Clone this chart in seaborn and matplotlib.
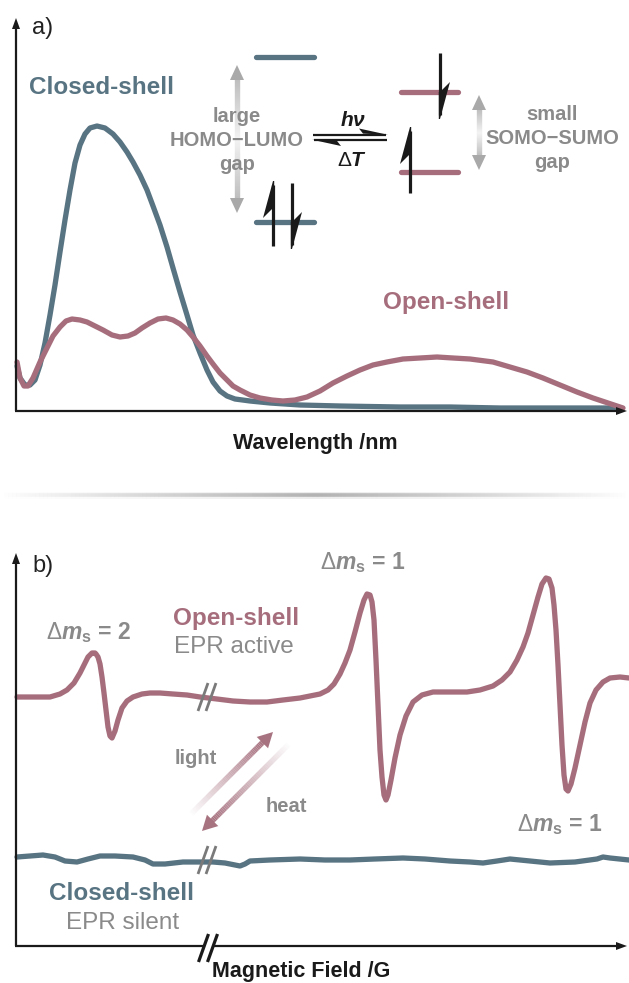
import numpy as np
import matplotlib
matplotlib.use("Agg")
import matplotlib.pyplot as plt
import seaborn as sns
from matplotlib.collections import LineCollection
from matplotlib.patches import Polygon
from matplotlib.colors import to_rgba

# ---------------- data (arbitrary units) ----------------
# Panel a: UV-vis absorption (x = wavelength position, y = absorbance)
uv_closed_x = [1, 4, 9, 14, 19, 24, 29, 34, 39, 44, 49, 54, 59, 64, 69, 74, 81, 89, 97, 104,
               111, 117, 124, 131, 137, 144, 151, 157, 164, 171, 177, 184, 191, 197, 204, 211,
               219, 234, 254, 284, 324, 384, 434, 484, 544, 604]
uv_closed_y = [45, 33, 26, 26, 31, 46, 68, 96, 126, 159, 191, 221, 248, 266, 277, 283, 285, 283,
               277, 269, 259, 249, 236, 221, 205, 186, 164, 143, 119, 96, 76, 58, 41, 29, 20, 15,
               12, 10, 8, 6, 5, 4, 4, 3, 3, 3]
uv_open_x = [1, 4, 8, 12, 17, 24, 31, 37, 44, 50, 56, 64, 71, 79, 87, 96, 104, 112, 119, 126,
             134, 142, 150, 157, 164, 171, 177, 184, 191, 197, 204, 211, 217, 224, 234, 244, 256,
             267, 279, 291, 304, 317, 331, 344, 357, 371, 387, 404, 421, 437, 454, 477, 494, 511,
             527, 544, 561, 577, 592, 607]
uv_open_y = [49, 33, 25, 25, 33, 49, 63, 75, 84, 90, 92, 91, 89, 85, 81, 76, 74, 75, 78, 83,
             88, 92, 93, 91, 87, 81, 74, 65, 55, 47, 38, 31, 25, 21, 16, 13, 11, 10, 11, 14, 20,
             28, 35, 41, 46, 49, 52, 53, 54, 53, 52, 49, 44, 39, 33, 26, 19, 13, 8, 3]

# Panel b: EPR signal (x = magnetic field position, y = signal)
epr_open_x = [1, 19, 34, 44, 51, 58, 64, 69, 72, 74, 76, 78, 79, 80, 82, 84, 86, 88, 90, 92, 94,
              96, 99, 102, 106, 111, 117, 126, 134, 144, 157, 171, 184, 201, 217, 234, 251, 267,
              284, 294, 304, 312, 318, 324, 329, 334, 339, 344, 348, 351, 354, 356, 358, 360,
              362, 364, 366, 368, 370, 372, 375, 379, 384, 390, 397, 406, 417, 434, 451, 464,
              477, 486, 494, 501, 507, 512, 517, 522, 526, 530, 533, 536, 538, 540, 542, 544,
              546, 548, 550, 552, 555, 559, 564, 569, 574, 580, 587, 594, 604, 613]
epr_open_y = [249, 249, 249, 252, 256, 263, 273, 283, 289, 291, 293, 293, 293, 292, 289, 282,
              269, 253, 236, 219, 210, 208, 215, 226, 238, 245, 249, 252, 253, 253, 252, 251,
              249, 247, 245, 244, 244, 246, 248, 250, 252, 256, 262, 272, 283, 296, 314, 333,
              346, 352, 351, 344, 326, 286, 241, 196, 169, 151, 146, 151, 166, 188, 211, 230,
              244, 251, 254, 254, 254, 256, 260, 266, 274, 286, 299, 313, 331, 349, 362, 368,
              367, 358, 341, 316, 281, 241, 201, 171, 157, 155, 162, 178, 201, 224, 243, 256,
              264, 268, 269, 268]
epr_closed_x = [1, 14, 27, 39, 49, 61, 72, 84, 99, 117, 129, 137, 149, 167, 184, 197, 209, 224,
                229, 234, 254, 284, 309, 334, 359, 387, 409, 434, 454, 467, 481, 494, 514, 534,
                559, 581, 587, 594, 613]
epr_closed_y = [89, 90, 91, 89, 85, 84, 87, 90, 90, 89, 86, 82, 82, 84, 84, 84, 83, 80, 82, 85,
                86, 87, 86, 86, 87, 88, 87, 85, 84, 83, 85, 87, 85, 83, 84, 87, 89, 88, 86]

# ---------------- style ----------------
BLUE = "#587482"
PINK = "#a66e7d"
GRAY = "#8a8a8a"
W, H = 629, 983

sns.set_theme(style="white")
plt.rcParams["font.family"] = ["Liberation Sans", "DejaVu Sans"]
plt.rcParams["mathtext.fontset"] = "custom"
plt.rcParams["mathtext.rm"] = "Liberation Sans"
plt.rcParams["mathtext.bf"] = "Liberation Sans:bold"
plt.rcParams["mathtext.it"] = "Liberation Sans:italic:bold"
plt.rcParams["mathtext.sf"] = "Liberation Sans:bold"

fig = plt.figure(figsize=(W / 100, H / 100), dpi=100)
fig.patch.set_facecolor("white")


def panel(top_px, bottom_px):
    ax = fig.add_axes([16 / W, (H - bottom_px) / H, 613 / W, (bottom_px - top_px) / H])
    ax.set_xlim(0, 613)
    ax.set_ylim(0, bottom_px - top_px)
    ax.set_axis_off()
    return ax


axa = panel(18, 411)
axb = panel(553, 946)

LW = 3.8
sns.lineplot(x=uv_closed_x, y=uv_closed_y, ax=axa, color=BLUE, linewidth=LW, sort=False,
             estimator=None)
sns.lineplot(x=uv_open_x, y=uv_open_y, ax=axa, color=PINK, linewidth=LW, sort=False,
             estimator=None)
sns.lineplot(x=epr_open_x, y=epr_open_y, ax=axb, color=PINK, linewidth=LW, sort=False,
             estimator=None)
sns.lineplot(x=epr_closed_x, y=epr_closed_y, ax=axb, color=BLUE, linewidth=LW, sort=False,
             estimator=None)
for a in (axa, axb):
    for ln in a.get_lines():
        ln.set_clip_on(False)
        ln.set_solid_capstyle("round")
        ln.set_solid_joinstyle("round")

# ---------------- overlay in pixel coordinates ----------------
ov = fig.add_axes([0, 0, 1, 1])
ov.set_xlim(0, W)
ov.set_ylim(H, 0)
ov.set_axis_off()
ov.patch.set_alpha(0)


def poly(pts, color, z=5):
    ov.add_patch(Polygon(pts, closed=True, facecolor=color, edgecolor="none", zorder=z))


def line(p0, p1, color="k", lw=1.5, z=5, cap="butt"):
    ov.plot([p0[0], p1[0]], [p0[1], p1[1]], color=color, lw=lw, zorder=z,
            solid_capstyle=cap)


def grad(p0, p1, c0, c1, lw, z=4, n=60):
    xs = np.linspace(p0[0], p1[0], n + 1)
    ys = np.linspace(p0[1], p1[1], n + 1)
    segs = [[(xs[i], ys[i]), (xs[i + 1], ys[i + 1])] for i in range(n)]
    a = np.array(to_rgba(c0))
    b = np.array(to_rgba(c1))
    t = np.linspace(0, 1, n)[:, None]
    cols = a * (1 - t) + b * t
    ov.add_collection(LineCollection(segs, colors=cols, linewidths=lw, capstyle="butt",
                                     zorder=z))


def axis_arrows(y_bottom, y_top):
    line((16, y_bottom), (16, y_top + 8), lw=1.6)
    line((15.2, y_bottom), (618, y_bottom), lw=1.6)
    poly([(16, y_top), (12, y_top + 11), (20, y_top + 11)], "k")
    poly([(627, y_bottom), (616, y_bottom - 4), (616, y_bottom + 4)], "k")


axis_arrows(411, 18)
axis_arrows(946, 553)

# panel labels
ov.text(32, 28, "a)", fontsize=17, color="#222222", ha="left", va="center")
ov.text(32, 566, "b)", fontsize=17, color="#222222", ha="left", va="center")

# axis titles
ov.text(315, 443, "Wavelength /nm", fontsize=15.5, fontweight="bold", color="k",
        ha="center", va="center")
ov.text(212, 971, "Magnetic Field /G", fontsize=15.5, fontweight="bold", color="k",
        ha="left", va="center")

# separator (soft gray band fading at both ends)
for lw_, al in [(5.0, 0.25), (2.6, 1.0)]:
    grad((0, 495), (315, 495), (0.72, 0.72, 0.72, 0.0), (0.70, 0.70, 0.70, al), lw_, n=80)
    grad((315, 495), (629, 495), (0.70, 0.70, 0.70, al), (0.72, 0.72, 0.72, 0.0), lw_, n=80)

# ---- panel a labels ----
ov.text(101, 88, "Closed-shell", fontsize=17.5, fontweight="bold", color=BLUE, ha="center",
        va="center")
ov.text(446, 303, "Open-shell", fontsize=17.5, fontweight="bold", color=PINK, ha="center",
        va="center")


# gap arrows (gray, fading in the middle)
def gap_arrow(x, y0, y1):
    hl, hw = 15, 7
    mid = (y0 + y1) / 2
    grad((x, y0 + hl - 1), (x, mid), "#a9a9a9", "#f0f0f0", 3.8, z=2)
    grad((x, mid), (x, y1 - hl + 1), "#f0f0f0", "#a9a9a9", 3.8, z=2)
    poly([(x, y0), (x - hw, y0 + hl), (x + hw, y0 + hl)], "#a9a9a9", z=2)
    poly([(x, y1), (x - hw, y1 - hl), (x + hw, y1 - hl)], "#a9a9a9", z=2)


gap_arrow(237, 65, 213)
gap_arrow(479, 95, 170)

for yy, s in [(117, "large"), (141, "HOMO\u2212LUMO"), (165, "gap")]:
    ov.text(237, yy, s, fontsize=14.5, fontweight="bold", color=GRAY, ha="center",
            va="center", zorder=6)
for yy, s in [(114, "small"), (138, "SOMO\u2212SUMO"), (162, "gap")]:
    ov.text(552, yy, s, fontsize=14.5, fontweight="bold", color=GRAY, ha="center",
            va="center", zorder=6)

# energy levels
for yy in (57, 222):
    line((256, yy), (314, yy), color=BLUE, lw=3.8, cap="round", z=4)
for yy in (92, 172):
    line((401, yy), (458, yy), color=PINK, lw=3.8, cap="round", z=4)


# spins (half arrows)
def spin(x, y_tail, y_tip, side):
    d = 1 if y_tail > y_tip else -1  # 1 = pointing up
    line((x, y_tail), (x, y_tip + d * 4), color="k", lw=2.3, z=7)
    poly([(x, y_tip), (x + side * 10, y_tip + d * 37), (x, y_tip + d * 27),
          (x - side * 1.2, y_tip + d * 27), (x - side * 1.2, y_tip)], "k", z=7)


spin(273, 246, 181, -1)
spin(292, 183, 249, 1)
spin(410, 193, 127, -1)
spin(440, 53, 119, 1)

# equilibrium harpoons
line((313, 134.5), (386, 134.5), lw=1.6, z=7)
poly([(388, 134.8), (359, 128.5), (363, 133.6)], "k", z=7)
line((314, 140), (387, 140), lw=1.6, z=7)
poly([(312, 139.7), (341, 146), (337, 140.9)], "k", z=7)
ov.text(353, 120, r"$h\nu$", fontsize=15, color="k", ha="center", va="center")
ov.text(352, 160, r"$\Delta\mathit{T}$", fontsize=15, color="k", ha="center", va="center")

# ---- panel b labels ----
ov.text(236, 619, "Open-shell", fontsize=17.5, fontweight="bold", color=PINK, ha="center",
        va="center")
ov.text(234, 647, "EPR active", fontsize=17.5, color=GRAY, ha="center", va="center")
ov.text(122, 893, "Closed-shell", fontsize=17.5, fontweight="bold", color=BLUE, ha="center",
        va="center")
ov.text(123, 923, "EPR silent", fontsize=17.5, color=GRAY, ha="center", va="center")

dm = r"$\Delta\mathit{m}_{\mathbf{s}}$"
ov.text(88, 633, dm + " = 2", fontsize=16.5, fontweight="bold", color=GRAY, ha="center",
        va="center")
ov.text(363, 563, dm + " = 1", fontsize=16.5, fontweight="bold", color=GRAY, ha="center",
        va="center")
ov.text(560, 825, dm + " = 1", fontsize=16.5, fontweight="bold", color=GRAY, ha="center",
        va="center")
ov.text(196, 758, "light", fontsize=14.5, fontweight="bold", color=GRAY, ha="center",
        va="center")
ov.text(286, 806, "heat", fontsize=14.5, fontweight="bold", color=GRAY, ha="center",
        va="center")


# light / heat arrows (fading tails)
def fade_arrow(tail, tip, color):
    tail = np.array(tail, float)
    tip = np.array(tip, float)
    u = (tip - tail) / np.linalg.norm(tip - tail)
    nrm = np.array([-u[1], u[0]])
    hl, hw = 15, 8
    base = tip - u * hl
    c0 = to_rgba(color, 0.0)
    c1 = to_rgba(color, 1.0)
    grad(tuple(tail), tuple(base + u * 1), c0, c1, 4.0, z=4)
    poly([tuple(tip), tuple(base + nrm * hw), tuple(base - nrm * hw)], color, z=4)


fade_arrow((190, 815), (273, 732), "#a87381")
fade_arrow((290, 743), (202, 831), "#a87381")


# breaks
def brk(xc, yc, color, lw, h=14, gap=8, white=False):
    dx = 5
    if white:
        poly([(xc - gap / 2 - dx + 1, yc + h), (xc - gap / 2 + dx + 1, yc - h),
              (xc + gap / 2 + dx - 1, yc - h), (xc + gap / 2 - dx - 1, yc + h)], "white", z=8)
    for off in (-gap / 2, gap / 2):
        line((xc + off - dx, yc + h), (xc + off + dx, yc - h), color=color, lw=lw, z=9)


brk(207, 697, "#7a7a7a", 2.0)
brk(207, 860, "#7a7a7a", 2.0)
brk(208, 948, "k", 2.3, h=14, gap=9, white=True)

fig.savefig("out.png", dpi=100, facecolor="white")
